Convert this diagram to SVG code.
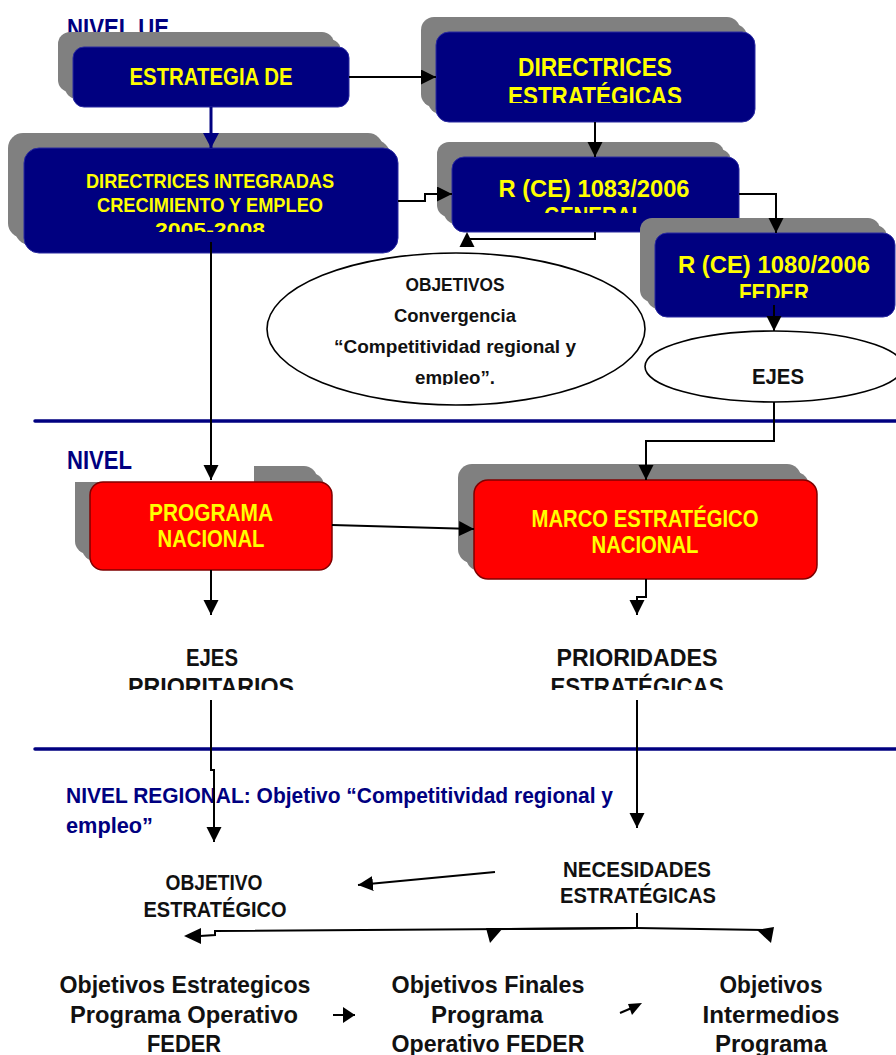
<svg xmlns="http://www.w3.org/2000/svg" width="896" height="1055" viewBox="0 0 896 1055">
<style>
  .sh{fill:#808080}
  .nb{fill:#000080;stroke:#2a2aa0;stroke-width:1}
  .rb{fill:#ff0000;stroke:#800000;stroke-width:1.5}
  .el{fill:#fff;stroke:#000;stroke-width:1.6}
  .ty{font-family:"Liberation Sans",Arial,sans-serif;font-weight:bold;fill:#ffff00;text-anchor:middle}
  .tk{font-family:"Liberation Sans",Arial,sans-serif;font-weight:bold;fill:#111;text-anchor:middle}
  .tn{font-family:"Liberation Sans",Arial,sans-serif;font-weight:bold;fill:#000080}
  .cn{fill:none;stroke:#000;stroke-width:2}
  .ah{fill:#000}
  .div{stroke:#000080;stroke-width:3.5;stroke-linecap:round}
</style>
<defs>
  <marker id="ah" markerUnits="userSpaceOnUse" markerWidth="16" markerHeight="16" refX="15" refY="7.5" orient="auto"><path d="M0,0 L15,7.5 L0,15 z" fill="#000"/></marker>
  <marker id="ahn" markerUnits="userSpaceOnUse" markerWidth="17" markerHeight="17" refX="15" refY="8" orient="auto"><path d="M0,0 L15,8 L0,16 z" fill="#000080"/></marker>
  <marker id="ahs" markerUnits="userSpaceOnUse" markerWidth="14" markerHeight="16" refX="12" refY="8" orient="auto"><path d="M0,0 L12,8 L0,16 z" fill="#000"/></marker>
  <clipPath id="cp-dirEst"><rect x="436" y="32" width="319" height="71"/></clipPath>
  <clipPath id="cp-dirInt"><rect x="24" y="148" width="374" height="84"/></clipPath>
  <clipPath id="cp-r1083"><rect x="452" y="157" width="287" height="56"/></clipPath>
  <clipPath id="cp-r1080"><rect x="655" y="233" width="241" height="65"/></clipPath>
  <clipPath id="cp-obj"><rect x="260" y="250" width="400" height="135"/></clipPath>
  <clipPath id="cp-ejes"><rect x="640" y="330" width="256" height="55"/></clipPath>
  <clipPath id="cp-ejesp"><rect x="100" y="630" width="220" height="60"/></clipPath>
  <clipPath id="cp-prio"><rect x="530" y="630" width="220" height="60"/></clipPath>
</defs>

<g id="label-nivel-ue">
  <text class="tn" x="67" y="37" font-size="25" textLength="102" lengthAdjust="spacingAndGlyphs">NIVEL UE</text>
</g>

<g id="node-estrategia">
  <rect class="sh" x="58" y="32" width="276" height="60" rx="12"/>
  <rect class="sh" x="65" y="39" width="276" height="60" rx="12"/>
  <rect class="nb" x="73" y="47" width="276" height="60" rx="11"/>
  <text class="ty" x="211" y="85" font-size="23" textLength="163" lengthAdjust="spacingAndGlyphs">ESTRATEGIA DE</text>
</g>

<g id="node-directrices-estrategicas">
  <rect class="sh" x="421" y="17" width="319" height="90" rx="13"/>
  <rect class="sh" x="428" y="24" width="319" height="90" rx="13"/>
  <rect class="nb" x="436" y="32" width="319" height="90" rx="13"/>
  <g clip-path="url(#cp-dirEst)">
    <text class="ty" x="595" y="76" font-size="25" textLength="154" lengthAdjust="spacingAndGlyphs">DIRECTRICES</text>
    <text class="ty" x="595" y="105" font-size="25" textLength="174" lengthAdjust="spacingAndGlyphs">ESTRATÉGICAS</text>
  </g>
</g>

<g id="node-directrices-integradas">
  <rect class="sh" x="8" y="133" width="375" height="105" rx="15"/>
  <rect class="sh" x="15" y="140" width="375" height="105" rx="15"/>
  <rect class="nb" x="24" y="148" width="374" height="105" rx="15"/>
  <g clip-path="url(#cp-dirInt)">
    <text class="ty" x="210" y="188" font-size="20" textLength="248" lengthAdjust="spacingAndGlyphs">DIRECTRICES INTEGRADAS</text>
    <text class="ty" x="210" y="212" font-size="20" textLength="226" lengthAdjust="spacingAndGlyphs">CRECIMIENTO Y EMPLEO</text>
    <text class="ty" x="210" y="237" font-size="20" textLength="110" lengthAdjust="spacingAndGlyphs">2005-2008</text>
  </g>
</g>

<g id="node-r1083">
  <rect class="sh" x="437" y="142" width="287" height="75" rx="12"/>
  <rect class="sh" x="444" y="149" width="287" height="75" rx="12"/>
  <rect class="nb" x="452" y="157" width="287" height="75" rx="12"/>
  <g clip-path="url(#cp-r1083)">
    <text class="ty" x="594" y="197" font-size="23" textLength="191" lengthAdjust="spacingAndGlyphs">R (CE) 1083/2006</text>
    <text class="ty" x="594" y="224" font-size="23" textLength="100" lengthAdjust="spacingAndGlyphs">GENERAL</text>
  </g>
</g>

<g id="node-r1080">
  <rect class="sh" x="640" y="218" width="240" height="84" rx="12"/>
  <rect class="sh" x="647" y="225" width="240" height="84" rx="12"/>
  <rect class="nb" x="655" y="233" width="240" height="84" rx="12"/>
  <g clip-path="url(#cp-r1080)">
    <text class="ty" x="774" y="273" font-size="23" textLength="192" lengthAdjust="spacingAndGlyphs">R (CE) 1080/2006</text>
    <text class="ty" x="774" y="301" font-size="23" textLength="70" lengthAdjust="spacingAndGlyphs">FEDER</text>
  </g>
</g>

<g id="node-objetivos">
  <ellipse class="el" cx="456" cy="329" rx="189" ry="76"/>
  <g clip-path="url(#cp-obj)">
    <text class="tk" x="455" y="291" font-size="19" textLength="99" lengthAdjust="spacingAndGlyphs">OBJETIVOS</text>
    <text class="tk" x="455" y="322" font-size="19" textLength="122" lengthAdjust="spacingAndGlyphs">Convergencia</text>
    <text class="tk" x="455" y="353" font-size="19" textLength="242" lengthAdjust="spacingAndGlyphs">“Competitividad regional y</text>
    <text class="tk" x="455" y="384" font-size="19" textLength="80" lengthAdjust="spacingAndGlyphs">empleo”.</text>
  </g>
</g>

<g id="node-ejes">
  <ellipse class="el" cx="774" cy="366.5" rx="129" ry="35.5"/>
  <g clip-path="url(#cp-ejes)">
    <text class="tk" x="778" y="384" font-size="22" textLength="52" lengthAdjust="spacingAndGlyphs">EJES</text>
  </g>
</g>

<g id="dividers">
  <line class="div" x1="35" y1="421" x2="896" y2="421"/>
  <line class="div" x1="35" y1="749" x2="896" y2="749"/>
</g>

<g id="node-programa">
  <rect class="sh" x="75" y="466" width="242" height="88" rx="13"/>
  <rect class="sh" x="82" y="473" width="242" height="88" rx="13"/>
  <rect x="55" y="440" width="199" height="42" fill="#fff"/>
  <rect class="rb" x="90" y="482" width="242" height="88" rx="13"/>
  <text class="ty" x="211" y="521" font-size="23" textLength="124" lengthAdjust="spacingAndGlyphs">PROGRAMA</text>
  <text class="ty" x="211" y="547" font-size="23" textLength="107" lengthAdjust="spacingAndGlyphs">NACIONAL</text>
</g>

<g id="label-nivel">
  <text class="tn" x="67" y="469" font-size="25" textLength="65" lengthAdjust="spacingAndGlyphs">NIVEL</text>
</g>

<g id="node-marco">
  <rect class="sh" x="458" y="464" width="343" height="99" rx="14"/>
  <rect class="sh" x="466" y="472" width="343" height="99" rx="14"/>
  <rect class="rb" x="474" y="480" width="343" height="99" rx="14"/>
  <text class="ty" x="645" y="527" font-size="23" textLength="227" lengthAdjust="spacingAndGlyphs">MARCO ESTRATÉGICO</text>
  <text class="ty" x="645" y="553" font-size="23" textLength="107" lengthAdjust="spacingAndGlyphs">NACIONAL</text>
</g>

<g id="node-ejes-prioritarios">
  <g clip-path="url(#cp-ejesp)">
    <text class="tk" x="212" y="666" font-size="24" textLength="52" lengthAdjust="spacingAndGlyphs">EJES</text>
    <text class="tk" x="211" y="695" font-size="24" textLength="166" lengthAdjust="spacingAndGlyphs">PRIORITARIOS</text>
  </g>
</g>

<g id="node-prioridades">
  <g clip-path="url(#cp-prio)">
    <text class="tk" x="637" y="666" font-size="24" textLength="161" lengthAdjust="spacingAndGlyphs">PRIORIDADES</text>
    <text class="tk" x="637" y="695" font-size="24" textLength="173" lengthAdjust="spacingAndGlyphs">ESTRATÉGICAS</text>
  </g>
</g>

<g id="label-nivel-regional">
  <text class="tn" x="66" y="803" font-size="22" textLength="547" lengthAdjust="spacingAndGlyphs">NIVEL REGIONAL: Objetivo “Competitividad regional y</text>
  <text class="tn" x="66" y="833" font-size="22" textLength="87" lengthAdjust="spacingAndGlyphs">empleo”</text>
</g>

<g id="node-objetivo-estrategico">
  <text class="tk" x="214" y="890" font-size="22" textLength="97" lengthAdjust="spacingAndGlyphs">OBJETIVO</text>
  <text class="tk" x="215" y="917" font-size="22" textLength="143" lengthAdjust="spacingAndGlyphs">ESTRATÉGICO</text>
</g>

<g id="node-necesidades">
  <text class="tk" x="637" y="877" font-size="22" textLength="148" lengthAdjust="spacingAndGlyphs">NECESIDADES</text>
  <text class="tk" x="638" y="903" font-size="22" textLength="156" lengthAdjust="spacingAndGlyphs">ESTRATÉGICAS</text>
</g>

<g id="node-obj-estrategicos">
  <text class="tk" x="185" y="993" font-size="24" textLength="251" lengthAdjust="spacingAndGlyphs">Objetivos Estrategicos</text>
  <text class="tk" x="184" y="1023" font-size="24" textLength="228" lengthAdjust="spacingAndGlyphs">Programa Operativo</text>
  <text class="tk" x="184" y="1052" font-size="24" textLength="74" lengthAdjust="spacingAndGlyphs">FEDER</text>
</g>

<g id="node-obj-finales">
  <text class="tk" x="488" y="993" font-size="24" textLength="193" lengthAdjust="spacingAndGlyphs">Objetivos Finales</text>
  <text class="tk" x="487" y="1023" font-size="24" textLength="112" lengthAdjust="spacingAndGlyphs">Programa</text>
  <text class="tk" x="488" y="1052" font-size="24" textLength="193" lengthAdjust="spacingAndGlyphs">Operativo FEDER</text>
</g>

<g id="node-obj-intermedios">
  <text class="tk" x="771" y="993" font-size="24" textLength="103" lengthAdjust="spacingAndGlyphs">Objetivos</text>
  <text class="tk" x="771" y="1023" font-size="24" textLength="137" lengthAdjust="spacingAndGlyphs">Intermedios</text>
  <text class="tk" x="771" y="1052" font-size="24" textLength="112" lengthAdjust="spacingAndGlyphs">Programa</text>
</g>

<g id="connectors">
  <path class="cn" d="M349,77 H436" marker-end="url(#ah)"/>
  <path d="M211,107 V148" fill="none" stroke="#000080" stroke-width="3" marker-end="url(#ahn)"/>
  <path class="cn" d="M595,122 V157" marker-end="url(#ah)"/>
  <path class="cn" d="M398,201 H425 V194 H452" marker-end="url(#ah)"/>
  <path class="cn" d="M739,194 H776 V233" marker-end="url(#ah)"/>
  <path class="cn" d="M595,232 V239 H467"/>
  <polygon class="ah" points="467,232 459.5,247 474.5,247"/>
  <path class="cn" d="M211,242 V480" marker-end="url(#ah)"/>
  <path class="cn" d="M774,305 V331" marker-end="url(#ah)"/>
  <path class="cn" d="M774,402 V441 H646 V480" marker-end="url(#ah)"/>
  <path class="cn" d="M332,525 L474,529" marker-end="url(#ah)"/>
  <path class="cn" d="M211,570 V615" marker-end="url(#ah)"/>
  <path class="cn" d="M646,579 V597 H637 V615" marker-end="url(#ah)"/>
  <path class="cn" d="M211,700 V770 H214 V842" marker-end="url(#ah)"/>
  <path class="cn" d="M637,700 V828" marker-end="url(#ah)"/>
  <path class="cn" d="M495,872 L358,885" marker-end="url(#ah)"/>
  <path class="cn" d="M637,913 V928"/>
  <path class="cn" d="M637,928 L215,931 V935 L200,936" stroke-width="2.2"/>
  <polygon class="ah" points="184,936 201,928 201,944"/>
  <path class="cn" d="M637,928 L495,929" stroke-width="3"/>
  <polygon class="ah" points="486,928 503,928 490,943"/>
  <path class="cn" d="M637,928 L765,930" stroke-width="2.5"/>
  <polygon class="ah" points="757,930 774,927 771,943"/>
  <path class="cn" d="M333,1015 H355" marker-end="url(#ahs)"/>
  <path class="cn" d="M620,1013 L634,1007"/>
  <polygon class="ah" points="628,1004 642,1003 632,1015"/>
</g>
</svg>
